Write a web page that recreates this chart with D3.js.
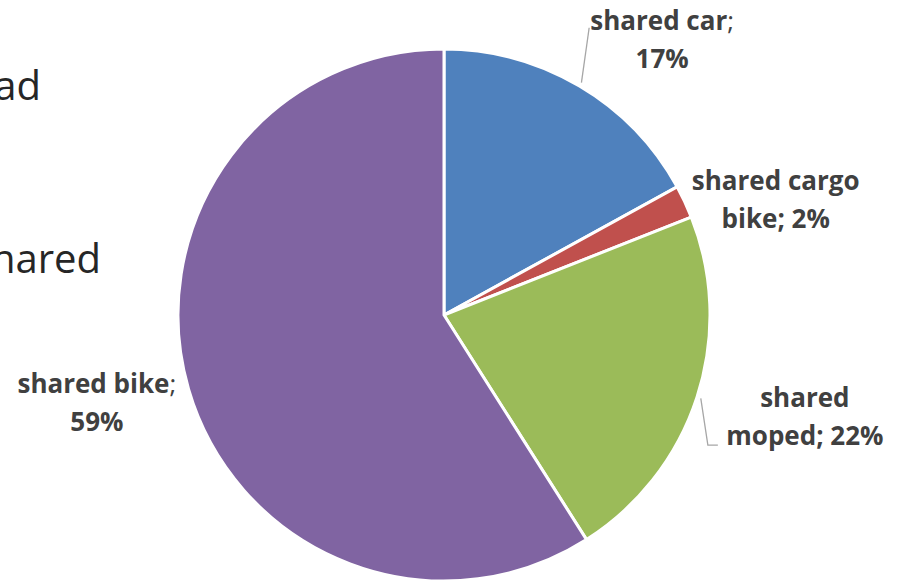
<!DOCTYPE html>
<html>
<head>
<meta charset="utf-8">
<script src="https://cdn.jsdelivr.net/npm/d3@7"></script>
<style>
  body { margin: 0; background: #fff; }
  svg { display: block; }
</style>
</head>
<body>
<script>
const WIDTH = 901;
const HEIGHT = 582;

var categories = ['shared car', 'shared cargo bike', 'shared moped', 'shared bike'];
var values = [17, 2, 22, 59];
var colors = ['#4F81BD', '#C0504D', '#9BBB59', '#8064A2'];
// label text lines for each slice
var labelLines = [
    ['shared car;', '17%'],
    ['shared cargo', 'bike; 2%'],
    ['shared', 'moped; 22%'],
    ['shared bike;', '59%']
];

var cx = 444, cy = 315, radius = 266;

var svg = d3.select('body').append('svg')
    .attr('width', WIDTH)
    .attr('height', HEIGHT);

// bits of slide text that sit behind the chart
svg.append('text')
    .attr('x', 41).attr('y', 100)
    .attr('text-anchor', 'end')
    .attr('font-family', '"Open Sans", sans-serif')
    .attr('font-size', 40)
    .attr('fill', '#262626')
    .text('ad');
svg.append('text')
    .attr('x', 101).attr('y', 273)
    .attr('text-anchor', 'end')
    .attr('font-family', '"Open Sans", sans-serif')
    .attr('font-size', 40)
    .attr('fill', '#262626')
    .text('shared');

var data = categories.map(function (c, i) {
    return {name: c, value: values[i], color: colors[i], lines: labelLines[i]};
});

var pie = d3.pie().sort(null).value(function (d) { return d.value; });
var arc = d3.arc().innerRadius(0).outerRadius(radius);
var labelArc = d3.arc().innerRadius(350).outerRadius(350);

var g = svg.append('g').attr('transform', 'translate(' + cx + ',' + cy + ')');
var arcs = pie(data);

g.selectAll('path.slice')
    .data(arcs)
    .enter()
    .append('path')
    .classed('slice', true)
    .attr('d', arc)
    .attr('fill', function (d) { return d.data.color; })
    .attr('stroke', '#fff')
    .attr('stroke-width', 3)
    .attr('stroke-linejoin', 'round');

// nudges from the label arc, like hand-placed Excel labels
var nudge = [[40, 26], [15, 34], [28, -6], [-11, -10]];

function midAngle(d) { return (d.startAngle + d.endAngle) / 2; }

var labelPos = arcs.map(function (d, i) {
    var c = labelArc.centroid(d);
    return [c[0] + nudge[i][0], c[1] + nudge[i][1]];
});

// leader lines for car and moped
var edge = function (d, r) {
    var a = midAngle(d);
    return [Math.sin(a) * r, -Math.cos(a) * r];
};
var leader = d3.line();
g.append('path')
    .attr('d', leader([edge(arcs[0], radius + 4),
        [labelPos[0][0] - 73, labelPos[0][1] - 12]]))
    .attr('fill', 'none')
    .attr('stroke', '#A6A6A6')
    .attr('stroke-width', 1.3);
g.append('path')
    .attr('d', leader([edge(arcs[2], radius + 4),
        [labelPos[2][0] - 97, labelPos[2][1] + 28],
        [labelPos[2][0] - 87, labelPos[2][1] + 28]]))
    .attr('fill', 'none')
    .attr('stroke', '#A6A6A6')
    .attr('stroke-width', 1.3);

var labels = g.selectAll('text.label')
    .data(arcs)
    .enter()
    .append('text')
    .classed('label', true)
    .attr('text-anchor', 'middle')
    .attr('font-family', '"Open Sans", sans-serif')
    .attr('font-weight', 'bold')
    .attr('font-size', 26)
    .attr('fill', '#404040')
    .attr('transform', function (d, i) {
        return 'translate(' + labelPos[i][0] + ',' + labelPos[i][1] + ')';
    });

labels.each(function (d) {
    var t = d3.select(this);
    d.data.lines.forEach(function (line, j) {
        var ts = t.append('tspan')
            .attr('x', 0)
            .attr('y', j === 0 ? -10 : 28);
        // a trailing semicolon is set in regular weight
        if (line.slice(-1) === ';') {
            ts.append('tspan').text(line.slice(0, -1));
            ts.append('tspan').attr('font-weight', 'normal').text(';');
        } else {
            ts.text(line);
        }
    });
});
</script>
</body>
</html>
